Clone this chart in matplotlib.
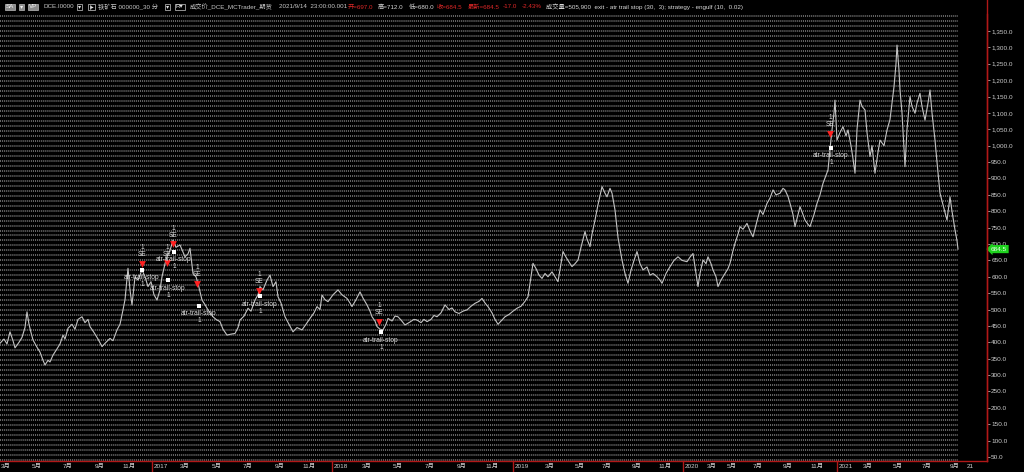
import matplotlib
matplotlib.use('Agg')
import matplotlib.pyplot as plt
import matplotlib.transforms as mtransforms
from matplotlib.lines import Line2D
import numpy as np

plt.rcParams['font.family'] = ['Liberation Sans', 'Noto Sans CJK SC', 'DejaVu Sans']

# ---------------- data (bar index along the chart, price) ----------------
bars = [0, 4, 7, 10, 13, 15, 19, 22, 25, 27, 29, 31, 33, 37, 40, 43, 45, 48, 50, 53,
        57, 60, 63, 65, 68, 72, 75, 78, 82, 85, 88, 90, 94, 98, 102, 106, 110, 113, 117,
        120, 123, 125, 128, 130, 132, 135, 138, 142, 145, 148, 151, 154, 157, 160, 162,
        165, 167, 170, 173, 176, 180, 183, 185, 188, 190, 193, 196, 198, 200, 202, 205,
        207, 210, 213, 216, 220, 223, 227, 231, 235, 238, 240, 244, 248, 251, 255, 258,
        260, 263, 267, 270, 273, 276, 278, 281, 285, 289, 293, 297, 302, 306, 310, 314,
        317, 320, 322, 325, 328, 333, 338, 342, 347, 350, 352, 356, 360, 363, 367, 370,
        372, 375, 377, 380, 383, 386, 388, 392, 395, 398, 401, 405, 410, 414, 417, 421,
        424, 427, 431, 434, 437, 441, 445, 449, 452, 455, 459, 463, 467, 471, 475, 479,
        482, 485, 488, 492, 495, 498, 501, 505, 509, 513, 517, 521, 525, 528, 530, 533,
        536, 539, 542, 545, 548, 552, 555, 558, 561, 563, 566, 569, 572, 575, 578, 581,
        585, 587, 590, 592, 595, 598, 602, 605, 607, 610, 612, 615, 618, 622, 625, 628,
        631, 634, 637, 640, 643, 647, 650, 653, 657, 660, 662, 666, 670, 674, 678, 682,
        687, 690, 693, 695, 698, 700, 703, 706, 708, 711, 713, 716, 718, 721, 725, 728,
        730, 733, 735, 738, 740, 743, 747, 750, 753, 757, 760, 763, 767, 770, 773, 776,
        780, 783, 785, 788, 790, 793, 795, 798, 800, 803, 805, 808, 810, 814, 817, 820,
        823, 826, 828, 830, 832, 834, 835, 837, 840, 843, 846, 848, 851, 853, 855, 857,
        860, 862, 865, 867, 870, 872, 875, 878, 880, 884, 887, 890, 892, 894, 896, 897,
        899, 900, 902, 905, 907, 910, 912, 915, 917, 920, 922, 925, 928, 930, 932, 935,
        937, 940, 943, 947, 950, 952, 955, 957, 958]
prices = [397, 410, 395, 432, 405, 383, 400, 415, 445, 493, 455, 430, 407, 385, 370, 345, 331, 345, 340, 361,
          380, 395, 422, 410, 443, 455, 440, 470, 478, 460, 470, 448, 430, 410, 387, 400, 412, 405, 438,
          455, 499, 530, 626, 560, 514, 600, 590, 621, 600, 570, 585, 545, 529, 560, 600,
          640, 661, 680, 712, 690, 697, 675, 661, 670, 687, 610, 600, 580, 555, 529, 515,
          504, 490, 478, 470, 463, 440, 422, 425, 427, 445, 468, 480, 504, 495, 529, 545,
          570, 560, 590, 605, 570, 585, 539, 520, 478, 455, 432, 445, 438, 455, 473, 490,
          509, 500, 544, 530, 524, 545, 560, 545, 534, 520, 509, 530, 554, 535, 514, 495,
          478, 465, 448, 440, 438, 455, 473, 465, 480, 478, 468, 453, 462, 470, 468, 460,
          470, 463, 470, 482, 478, 490, 514, 500, 505, 493, 488, 495, 499, 510, 519, 525,
          534, 520, 509, 490, 470, 455, 465, 478, 485, 495, 504, 510, 525, 539, 580, 641,
          625, 605, 595, 610, 600, 615, 600, 585, 640, 677, 660, 645, 631, 640, 651, 690,
          738, 715, 692, 730, 773, 820, 875, 855, 844, 870, 855, 804, 720, 651, 610, 580,
          620, 650, 677, 640, 621, 630, 605, 610, 600, 590, 580, 610, 631, 650, 661, 650,
          646, 660, 671, 630, 570, 610, 651, 640, 661, 640, 621, 600, 570, 590, 610, 625,
          641, 680, 702, 730, 753, 745, 763, 740, 722, 770, 804, 790, 824, 840, 865, 850,
          855, 870, 865, 845, 824, 790, 753, 790, 814, 790, 773, 760, 753, 790, 824, 850,
          885, 910, 926, 990, 1048, 1100, 1139, 1017, 1040, 1058, 1030, 1048, 1000, 960, 916, 1050,
          1139, 1120, 1109, 1040, 967, 1000, 916, 980, 1017, 1000, 1048, 1080, 1129, 1180, 1250, 1307,
          1230, 1170, 1100, 936, 1050, 1150, 1120, 1099, 1130, 1160, 1120, 1078, 1130, 1170, 1100, 1017,
          950, 855, 820, 773, 844, 800, 743, 710, 684.5]

entry_bars = [142, 167, 173, 197, 259, 379, 830]
entry_prices = [639, 642, 700, 578, 557, 462, 1036]
exit_bars = [142, 168, 174, 199, 260, 381, 831]
exit_prices = [621, 590, 676, 511, 541, 431, 993]
last_price = 684.5

month_pos = [1, 32, 63, 95, 122, 180, 212, 243, 275, 302, 362, 393, 425, 457, 485,
             545, 575, 602, 632, 658, 707, 727, 753, 783, 810, 863, 893, 922, 950, 967]
month_labels = ['3月', '5月', '7月', '9月', '11月', '3月', '5月', '7月', '9月', '11月',
                '3月', '5月', '7月', '9月', '11月', '3月', '5月', '7月', '9月', '11月',
                '3月', '5月', '7月', '9月', '11月', '3月', '5月', '7月', '9月', '21']
year_pos = [154, 334, 515, 685, 839]
year_labels = ['2017', '2018', '2019', '2020', '2021']
y_ticks = list(range(50, 1351, 50))

# ---------------- figure ----------------
W, H = 1024, 472
RED = '#b01818'
fig = plt.figure(figsize=(W / 100, H / 100), dpi=100, facecolor='black')
ax = fig.add_axes([0, 11 / H, 987 / W, (461 - 14) / H])
ax.set_facecolor('black')
ax.set_xlim(0, 987)
ax.set_ylim(37.8, 1401.9)

# dotted background rows
for v in np.arange(42, 1400, 15.2):
    ax.axhline(v, xmin=0, xmax=958 / 987, color='#6a6a6a', lw=1.4,
               ls=(0, (0.5, 0.5)), zorder=0)

ax.plot(bars, prices, color='#c4c4c4', lw=0.8, zorder=3)

# signals
ax.scatter(entry_bars, entry_prices, marker='v', s=24, color='#ff2020', zorder=5, linewidths=0)
ax.scatter(exit_bars, exit_prices, marker='s', s=10, color='white', zorder=6, linewidths=0)
for x, p in zip(entry_bars, entry_prices):
    ax.annotate('SE', (x, p), xytext=(0, 9), textcoords='offset pixels', ha='center',
                va='center', fontsize=4.8, color='#dddddd', zorder=7)
    ax.annotate('1', (x, p), xytext=(0, 16), textcoords='offset pixels', ha='center',
                va='center', fontsize=4.8, color='#dddddd', zorder=7)
for x, p in zip(exit_bars, exit_prices):
    ax.annotate('atr-trail-stop', (x, p), xytext=(0, -8), textcoords='offset pixels',
                ha='center', va='center', fontsize=4.8, color='#dddddd', zorder=7)
    ax.annotate('1', (x, p), xytext=(0, -15), textcoords='offset pixels', ha='center',
                va='center', fontsize=4.8, color='#dddddd', zorder=7)

# axes styling
for s in ['top', 'left']:
    ax.spines[s].set_visible(False)
ax.spines['right'].set_color(RED)
ax.spines['bottom'].set_color(RED)
ax.spines['right'].set_linewidth(1)
ax.spines['bottom'].set_linewidth(1)

ax.yaxis.tick_right()
ax.set_yticks(y_ticks)
ax.set_yticklabels([f'{v:,.1f}' for v in y_ticks])
ax.tick_params(axis='y', labelsize=4.6, labelcolor='#cfcfcf', color='#aaaaaa',
               length=2, width=0.6, pad=1)

all_pos = month_pos + year_pos
all_labels = month_labels + year_labels
ax.set_xticks(all_pos)
ax.set_xticklabels(all_labels)
for t in ax.get_xticklabels():
    t.set_ha('left')
ax.tick_params(axis='x', labelsize=4.6, labelcolor='#cfcfcf', length=0, pad=2)

blend = mtransforms.blended_transform_factory(ax.transData, ax.transAxes)
for x in year_pos:
    ax.add_line(Line2D([x - 2, x - 2], [-0.025, 0], transform=blend, color=RED,
                       lw=1, clip_on=False))

# last price tag
ax.text(1.004, last_price, f'{last_price:.1f}', transform=mtransforms.blended_transform_factory(
    ax.transAxes, ax.transData), ha='left', va='center', fontsize=4.6, color='#e8ffe8',
    bbox=dict(boxstyle='larrow,pad=0.25', fc='#1ed21e', ec='none'), clip_on=False, zorder=8)

# red vertical line through header
fig.add_artist(Line2D([987 / W, 987 / W], [11 / H, 1], transform=fig.transFigure,
                      color=RED, lw=1))

# header
yh = 1 - 7 / H
hs = 4.5
def htext(x, s, color='#c8c8c8', box=None):
    kw = {}
    if box == 'fill':
        kw['bbox'] = dict(boxstyle='square,pad=0.15', fc='#8a8a8a', ec='#bbbbbb', lw=0.5)
    elif box == 'line':
        kw['bbox'] = dict(boxstyle='square,pad=0.15', fc='black', ec='#cccccc', lw=0.5)
    fig.text(x / W, yh, s, color=color, fontsize=hs, ha='left', va='center', **kw)

htext(6, 'SA', '#f0f0f0', 'fill')
htext(20, '▾', '#f0f0f0', 'fill')
htext(29, 'VP', '#f0f0f0', 'fill')
htext(43, 'DCE.I0000')
htext(78, '▾', '#e0e0e0', 'line')
htext(89, '|▸', '#e0e0e0', 'line')
htext(98, '铁矿石 000000_30 分')
htext(166, '▾', '#e0e0e0', 'line')
htext(176, 'R▾', '#e0e0e0', 'line')
htext(190, '成交价_DCE_MCTrader_期货')
htext(279, '2021/9/14  23:00:00.001')
htext(348, '开=697.0', '#e02828')
htext(378, '高=712.0', '#d8d8d8')
htext(409, '低=680.0', '#d8d8d8')
htext(437, '收=684.5', '#e02828')
htext(468, '最新=684.5', '#e02828')
htext(503, '-17.0', '#e02828')
htext(522, '-2.43%', '#e02828')
htext(546, '成交量=505,900  exit - atr trail stop (30,  3); strategy - engulf (10,  0.02)', '#d8d8d8')

fig.savefig('out.png', dpi=100, facecolor='black')
